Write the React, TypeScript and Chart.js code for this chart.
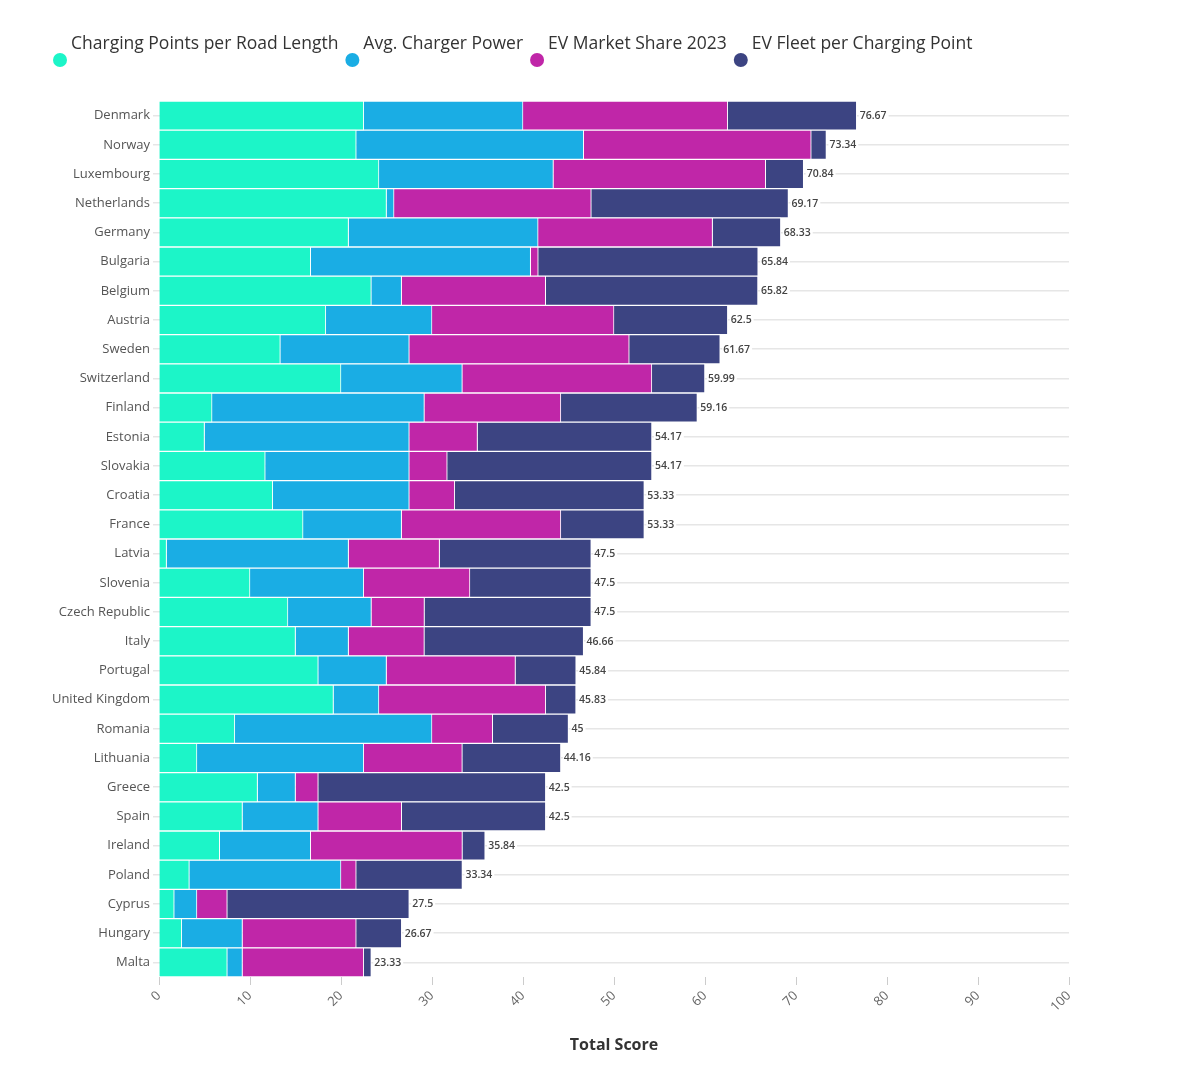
import { useEffect, useRef } from 'react'
import { Chart, registerables } from 'chart.js'

Chart.register(...registerables)

const countries = [
  'Denmark', 'Norway', 'Luxembourg', 'Netherlands', 'Germany', 'Bulgaria', 'Belgium', 'Austria',
  'Sweden', 'Switzerland', 'Finland', 'Estonia', 'Slovakia', 'Croatia', 'France', 'Latvia',
  'Slovenia', 'Czech Republic', 'Italy', 'Portugal', 'United Kingdom', 'Romania', 'Lithuania',
  'Greece', 'Spain', 'Ireland', 'Poland', 'Cyprus', 'Hungary', 'Malta'
]

const pointsPerRoad = [22.5, 21.67, 24.17, 25, 20.83, 16.67, 23.33, 18.33, 13.33, 20, 5.83, 5, 11.67, 12.5, 15.83, 0.83, 10, 14.17, 15, 17.5, 19.17, 8.33, 4.17, 10.83, 9.17, 6.67, 3.33, 1.67, 2.5, 7.5]
const chargerPower = [17.5, 25, 19.17, 0.83, 20.83, 24.17, 3.33, 11.67, 14.17, 13.33, 23.33, 22.5, 15.83, 15, 10.83, 20, 12.5, 9.17, 5.83, 7.5, 5, 21.67, 18.33, 4.17, 8.33, 10, 16.67, 2.5, 6.67, 1.67]
const marketShare = [22.5, 25, 23.33, 21.67, 19.17, 0.83, 15.83, 20, 24.17, 20.83, 15, 7.5, 4.17, 5, 17.5, 10, 11.67, 5.83, 8.33, 14.17, 18.33, 6.67, 10.83, 2.5, 9.17, 16.67, 1.67, 3.33, 12.5, 13.33]
const fleetPerPoint = [14.17, 1.67, 4.17, 21.67, 7.5, 24.17, 23.33, 12.5, 10, 5.83, 15, 19.17, 22.5, 20.83, 9.17, 16.67, 13.33, 18.33, 17.5, 6.67, 3.33, 8.33, 10.83, 25, 15.83, 2.5, 11.67, 20, 5, 0.83]

const seriesNames = ['Charging Points per Road Length', 'Avg. Charger Power', 'EV Market Share 2023', 'EV Fleet per Charging Point']
const seriesColors = ['#1cf5c8', '#1aade4', '#c026a8', '#3c4482']

const FONT = "'Open Sans', sans-serif"

// legend drawn by hand: dot sits a little below the text, as in the original
const legendPlugin = {
  id: 'dotLegend',
  afterDraw(chart) {
    const ctx = chart.ctx
    ctx.save()
    ctx.font = `17.5px ${FONT}`
    ctx.textBaseline = 'middle'
    let x = 52
    chart.data.datasets.forEach((ds) => {
      ctx.fillStyle = ds.backgroundColor
      ctx.beginPath()
      ctx.arc(x, 52, 7, 0, Math.PI * 2)
      ctx.fill()
      ctx.fillStyle = '#333'
      ctx.fillText(ds.label, x + 11, 36)
      x += 11 + ctx.measureText(ds.label).width + 14
    })
    ctx.restore()
  }
}

const totalsPlugin = {
  id: 'totals',
  afterDatasetsDraw(chart) {
    const ctx = chart.ctx
    const xs = chart.scales.x
    const ys = chart.scales.y
    ctx.save()
    ctx.font = `600 10.5px ${FONT}`
    ctx.textBaseline = 'middle'
    countries.forEach((_, i) => {
      let sum = 0
      chart.data.datasets.forEach((ds) => { sum += ds.data[i] })
      const txt = String(Math.round(sum * 100) / 100)
      const x = xs.getPixelForValue(sum) + 3
      const y = ys.getPixelForValue(i)
      const w = ctx.measureText(txt).width
      ctx.fillStyle = '#fff'
      ctx.fillRect(x - 1, y - 6, w + 3, 12)
      ctx.fillStyle = '#444'
      ctx.fillText(txt, x, y + 0.5)
    })
    ctx.restore()
  }
}

export default function App() {
  const canvasRef = useRef(null)

  useEffect(() => {
    const ctx = canvasRef.current.getContext('2d')
    const values = [pointsPerRoad, chargerPower, marketShare, fleetPerPoint]
    const chart = new Chart(ctx, {
      type: 'bar',
      data: {
        labels: countries,
        datasets: values.map((data, k) => ({
          label: seriesNames[k],
          data,
          backgroundColor: seriesColors[k],
          borderColor: '#fff',
          borderWidth: 1,
          barPercentage: 1,
          categoryPercentage: 1
        }))
      },
      options: {
        indexAxis: 'y',
        animation: false,
        responsive: true,
        maintainAspectRatio: false,
        layout: { padding: { top: 93, right: 123, bottom: 6, left: 0 } },
        plugins: {
          legend: { display: false },
          tooltip: { enabled: false }
        },
        scales: {
          x: {
            stacked: true,
            min: 0,
            max: 100,
            border: { display: false },
            grid: { drawOnChartArea: false, drawTicks: true, tickLength: 8, color: '#ccc' },
            ticks: { stepSize: 10, minRotation: 45, maxRotation: 45, color: '#666', font: { family: FONT, size: 13 } },
            title: { display: true, text: 'Total Score', color: '#333', font: { family: FONT, size: 16, weight: 'bold' }, padding: { top: 18 } }
          },
          y: {
            stacked: true,
            border: { display: false },
            grid: { offset: false, color: '#e6e6e6', lineWidth: 1.5, tickLength: 6 },
            ticks: { color: '#555', padding: 3, font: { family: FONT, size: 13 } },
            afterFit(scale) { scale.width = 151 }
          }
        }
      },
      plugins: [legendPlugin, totalsPlugin]
    })
    return () => chart.destroy()
  }, [])

  return (
    <div style={{ position: 'relative', width: 1184, height: 1057 }}>
      <canvas ref={canvasRef}></canvas>
    </div>
  )
}
